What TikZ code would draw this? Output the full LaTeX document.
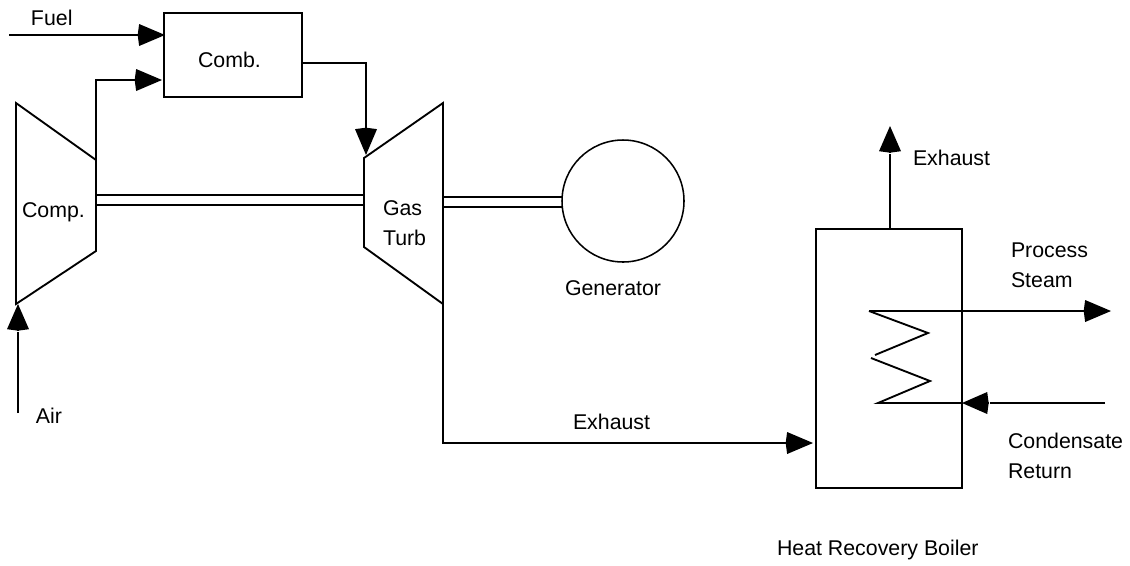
\documentclass[tikz,border=0pt]{standalone}
\usepackage{fontspec}
\setmainfont{Liberation Sans}
\usetikzlibrary{arrows.meta}
\tikzset{
  x=0.75pt,y=-0.75pt,
  line/.style={draw=black,line width=1.4pt,line join=miter},
  flow/.style={line,-{Kite[length=20.5pt,width=16.5pt,inset=1.1pt]}},
  gapflow/.style={line,-{Bar[white,width=6pt,line width=.6pt,sep=0pt]Kite[black,length=20pt,width=16.5pt,inset=1.1pt]}},
  lab/.style={anchor=base west,inner sep=0pt,outer sep=0pt,font=\fontsize{16pt}{20pt}\selectfont,text=black},
  boxnode/.style={line,inner sep=0pt,outer sep=0pt,rectangle},
}
\begin{document}
\begin{tikzpicture}
\useasboundingbox (0,0) rectangle (1130,565);
% equipment
\coordinate (c1) at (16,103); \coordinate (c2) at (96,160);
\coordinate (c3) at (96,251); \coordinate (c4) at (16,304);
\coordinate (t1) at (443,103); \coordinate (t2) at (364,158);
\coordinate (t3) at (364,247); \coordinate (t4) at (443,304);
\draw[line] (c1) -- (c2) -- (c3) -- (c4) -- cycle;
\draw[line] (t1) -- (t2) -- (t3) -- (t4) -- cycle;
\node[boxnode,minimum width=103.5pt,minimum height=63pt] (comb) at (233,55) {};
\node[boxnode,minimum width=109.5pt,minimum height=194.2pt] (boiler) at (889,358.5) {};
\node[draw=black,line width=1.15pt,circle,inner sep=0pt,outer sep=0pt,minimum size=91.5pt] (gen) at (623,201) {};
% fuel and air
\coordinate (fuelS) at (9,35); \coordinate (fuelE) at (165,35);
\draw[flow] (fuelS) -- (fuelE);
\coordinate (airA) at (96,160); \coordinate (airB) at (96,80); \coordinate (airE) at (162,80);
\draw[flow] (airA) -- (airB) -- (airE);
\coordinate (airS) at (18,413); \coordinate (airT) at (18,304);
\draw[gapflow] (airS) -- (airT);
% combustor to turbine
\coordinate (co) at (302,63); \coordinate (cb) at (366,63); \coordinate (ce) at (366,155);
\draw[flow] (co) -- (cb) -- (ce);
% shafts
\coordinate (s1a) at (96,195); \coordinate (s1b) at (364,195);
\coordinate (s2a) at (96,205); \coordinate (s2b) at (364,205);
\draw[line] (s1a) -- (s1b);
\draw[line] (s2a) -- (s2b);
\coordinate (s3a) at (443,197); \coordinate (s3b) at (562,197);
\coordinate (s4a) at (443,207); \coordinate (s4b) at (562,207);
\draw[line] (s3a) -- (s3b);
\draw[line] (s4a) -- (s4b);
% exhaust
\coordinate (ex1) at (443,304); \coordinate (ex2) at (443,443); \coordinate (ex3) at (813,443);
\draw[flow] (ex1) -- (ex2) -- (ex3);
\coordinate (up1) at (890,229); \coordinate (up2) at (890,126);
\draw[gapflow] (up1) -- (up2);
% coil
\coordinate (k0) at (1111,311); \coordinate (k1) at (869,311); \coordinate (k2) at (928,333);
\coordinate (k3) at (875,355); \coordinate (k4) at (871,358); \coordinate (k5) at (930,381);
\coordinate (k6) at (878,403); \coordinate (k7) at (962,403); \coordinate (k8) at (1105,403);
\draw[flow] (k1) -- (k0);
\draw[line] (k1) -- (k2) -- (k3);
\draw[line] (k4) -- (k5) -- (k6) -- (k7);
\draw[gapflow] (k8) -- (k7);
% labels
\node[lab] (lFuel) at (31,25) {Fuel};
\node[lab] (lComb) at (198,67) {Comb.};
\node[lab] (lComp) at (22,217) {Comp.};
\node[lab] (lGas) at (383,215) {Gas};
\node[lab] (lTurb) at (383,245) {Turb};
\node[lab] (lGen) at (565,295) {Generator};
\node[lab] (lAir) at (36,423) {Air};
\node[lab] (lEx) at (573,429) {Exhaust};
\node[lab] (lExT) at (913,165) {Exhaust};
\node[lab] (lPr) at (1011,257) {Process};
\node[lab] (lSt) at (1011,287) {Steam};
\node[lab] (lCo) at (1008,448) {Condensate};
\node[lab] (lRe) at (1008,478) {Return};
\node[lab] (lHr) at (777,555) {Heat Recovery Boiler};
\end{tikzpicture}
\end{document}
